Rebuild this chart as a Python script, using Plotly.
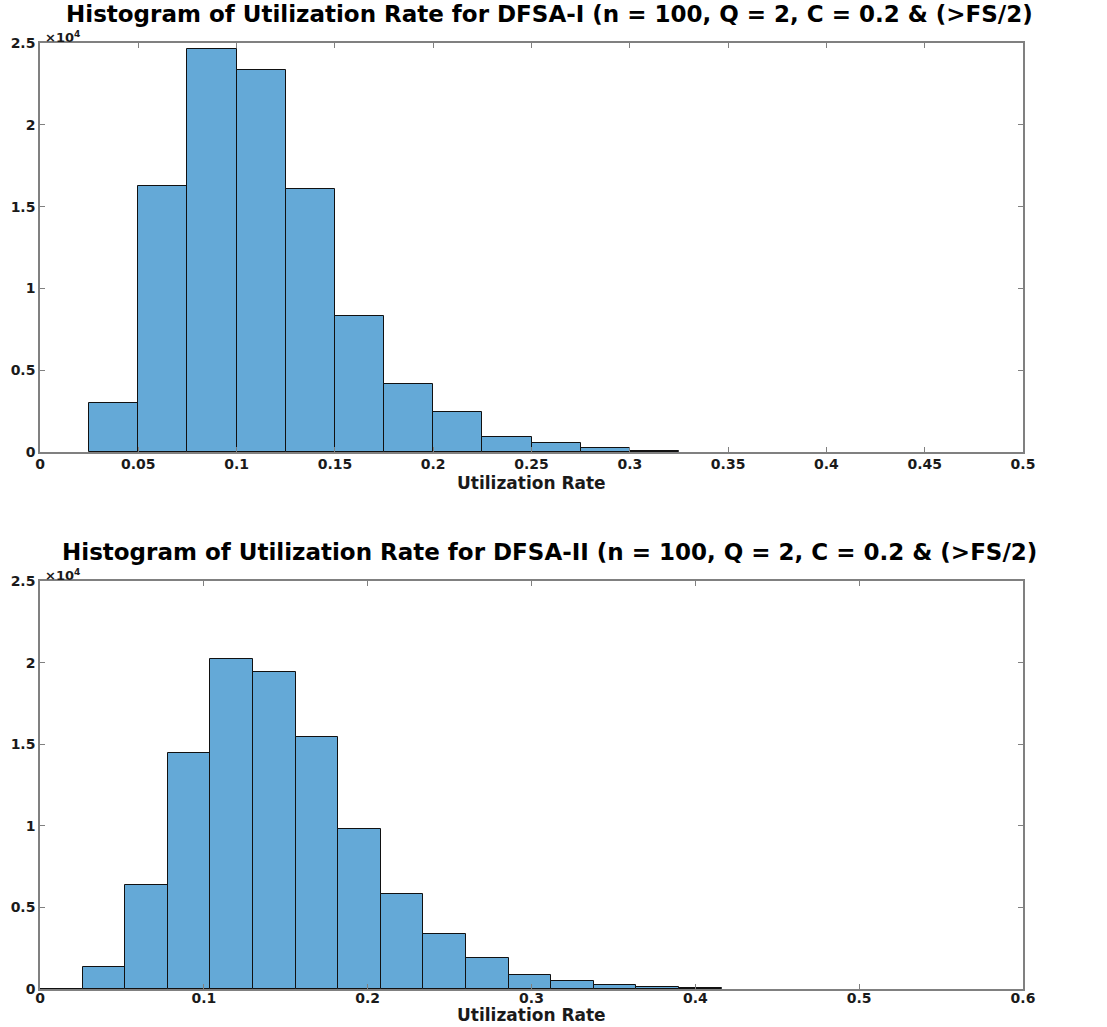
import plotly.graph_objects as go

# ---------------- data ----------------
# DFSA-I histogram (bin width 0.025)
edges_1 = [0.025, 0.05, 0.075, 0.1, 0.125, 0.15, 0.175, 0.2, 0.225, 0.25, 0.275, 0.3, 0.325]
counts_1 = [3020, 16260, 24610, 23370, 16080, 8330, 4160, 2425, 937, 570, 260, 90]

# DFSA-II histogram (bin width 0.026)
edges_2 = [0.0, 0.026, 0.052, 0.078, 0.104, 0.13, 0.156, 0.182, 0.208, 0.234, 0.26,
           0.286, 0.312, 0.338, 0.364, 0.39, 0.416]
counts_2 = [15, 1340, 6380, 14470, 20240, 19430, 15470, 9780, 5850, 3370, 1910,
            850, 490, 260, 120, 60]

xticks_1 = [0, 0.05, 0.1, 0.15, 0.2, 0.25, 0.3, 0.35, 0.4, 0.45, 0.5]
xticklabels_1 = ["0", "0.05", "0.1", "0.15", "0.2", "0.25", "0.3", "0.35", "0.4", "0.45", "0.5"]
xticks_2 = [0, 0.1, 0.2, 0.3, 0.4, 0.5, 0.6]
xticklabels_2 = ["0", "0.1", "0.2", "0.3", "0.4", "0.5", "0.6"]
yticks = [0, 5000, 10000, 15000, 20000, 25000]
yticklabels = ["0", "0.5", "1", "1.5", "2", "2.5"]

title_1 = "Histogram of Utilization Rate for DFSA-I (n = 100, Q = 2, C = 0.2 & (>FS/2)"
title_2 = "Histogram of Utilization Rate for DFSA-II (n = 100, Q = 2, C = 0.2 & (>FS/2)"
xlabel = "Utilization Rate"

# ---------------- styling ----------------
W, H = 1107, 1027
FONT = "DejaVu Sans"
BAR_FILL = "#64a9d7"
AX_COLOR = "#808080"
TXT = "#1a1a1a"


def centers(edges):
    return [(a + b) / 2 for a, b in zip(edges[:-1], edges[1:])]


def widths(edges):
    return [b - a for a, b in zip(edges[:-1], edges[1:])]


fig = go.Figure()
fig.add_trace(go.Bar(x=centers(edges_1), y=counts_1, width=widths(edges_1),
                     marker=dict(color=BAR_FILL, line=dict(color="#111111", width=1)),
                     xaxis="x", yaxis="y", showlegend=False))
fig.add_trace(go.Bar(x=centers(edges_2), y=counts_2, width=widths(edges_2),
                     marker=dict(color=BAR_FILL, line=dict(color="#111111", width=1)),
                     xaxis="x2", yaxis="y2", showlegend=False))


def px_x(p):
    return p / W


def px_y(p):
    return 1 - p / H


xdom = [px_x(40), px_x(1023)]
ydom1 = [px_y(452), px_y(43)]
ydom2 = [px_y(989), px_y(581)]

axis_common = dict(showline=True, linecolor=AX_COLOR, linewidth=1.5, mirror="allticks",
                   ticks="inside", ticklen=5, tickcolor=AX_COLOR, tickwidth=1,
                   showgrid=False, zeroline=False, automargin=False,
                   tickfont=dict(family=FONT, size=14, color=TXT, weight="bold"))

fig.update_layout(
    width=W, height=H,
    margin=dict(l=0, r=0, t=0, b=0),
    paper_bgcolor="white", plot_bgcolor="white",
    bargap=0,
    xaxis=dict(domain=xdom, range=[0, 0.5], tickvals=xticks_1, ticktext=xticklabels_1,
               anchor="y", ticklabelstandoff=-2, **axis_common),
    yaxis=dict(domain=ydom1, range=[0, 25000], tickvals=yticks, ticktext=yticklabels,
               anchor="x", **axis_common),
    xaxis2=dict(domain=xdom, range=[0, 0.6], tickvals=xticks_2, ticktext=xticklabels_2,
                anchor="y2", ticklabelstandoff=-5, **axis_common),
    yaxis2=dict(domain=ydom2, range=[0, 25000], tickvals=yticks, ticktext=yticklabels,
                anchor="x2", **axis_common),
)

ann = []
for title, ty in [(title_1, 14), (title_2, 552)]:
    ann.append(dict(text=title, x=px_x(549), y=px_y(ty), xref="paper", yref="paper",
                    xanchor="center", yanchor="middle", showarrow=False,
                    font=dict(family=FONT, size=23, color="#000000", weight="bold")))
for ly in [483, 1015]:
    ann.append(dict(text=xlabel, x=px_x(531), y=px_y(ly), xref="paper", yref="paper",
                    xanchor="center", yanchor="middle", showarrow=False,
                    font=dict(family=FONT, size=17, color=TXT, weight="bold")))
for ey in [37, 575]:
    ann.append(dict(text="\u00d710<sup>4</sup>", x=px_x(43), y=px_y(ey), xref="paper", yref="paper",
                    xanchor="left", yanchor="middle", showarrow=False,
                    font=dict(family=FONT, size=13, color=TXT, weight="bold")))
fig.update_layout(annotations=ann)

fig.write_html("out.html", config={"displayModeBar": False},
               post_script="document.body.style.margin='0';")
